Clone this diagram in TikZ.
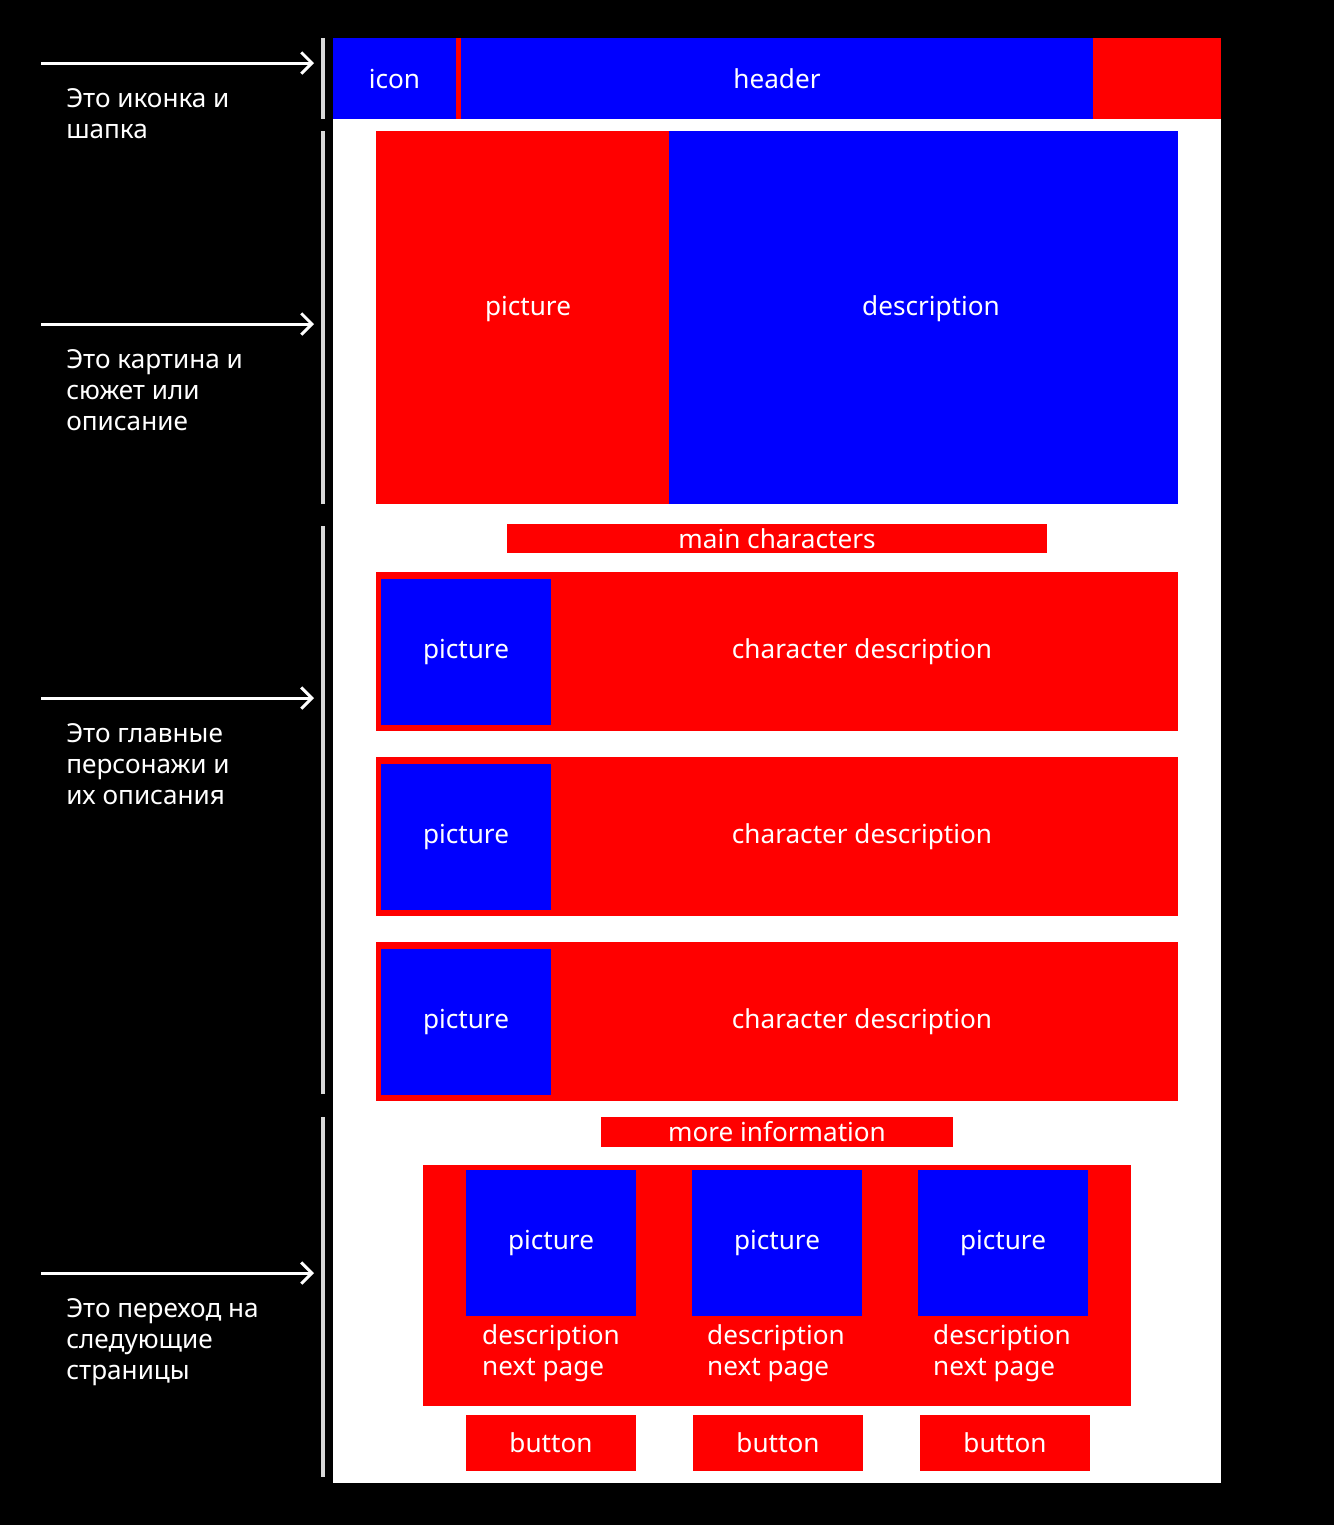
\documentclass[tikz,border=0pt]{standalone}
\usepackage{fontspec}
\setmainfont{Noto Sans}
\usetikzlibrary{arrows.meta}

\definecolor{boxred}{RGB}{255,0,0}
\definecolor{boxblue}{RGB}{0,0,255}
\definecolor{rulegray}{RGB}{217,217,217}

\tikzset{
	redbox/.style={fill=boxred, text=white, inner sep=0pt, outer sep=0pt},
	bluebox/.style={fill=boxblue, text=white, inner sep=0pt, outer sep=0pt},
	label/.style={text=white, inner sep=0pt},
	note/.style={text=white, anchor=base west, align=left, inner sep=0pt},
	pointer/.style={draw=white, line width=2.25pt, -{Straight Barb[length=8pt,width=16pt]}},
	bracket/.style={draw=rulegray, line width=3pt},
}

\begin{document}
\begin{tikzpicture}[x=0.75pt, y=-0.75pt, font=\fontsize{19.6}{23.25}\selectfont]
				\fill[black] (0,0) rectangle (1334,1525);
				\useasboundingbox (0,0) rectangle (1334,1525);
				\fill[white] (333,38) rectangle (1221,1483);
				
				% header
				\node[bluebox, minimum width=92.25pt, minimum height=60.75pt] (icon) at (394.5,78.5) {icon};
				\fill[boxred] (456,38) rectangle (461,119);
				\node[bluebox, minimum width=474pt, minimum height=60.75pt] (header) at (777,78.5) {header};
				\node[redbox, minimum width=96pt, minimum height=60.75pt] (corner) at (1157,78.5) {};
				
				% picture and plot
				\node[redbox, minimum width=219.75pt, minimum height=279.75pt] (poster) at (522.5,317.5) {};
				\node[label] (postertext) at (528,309) {picture};
				\node[bluebox, minimum width=381.75pt, minimum height=279.75pt] (plot) at (923.5,317.5) {};
				\node[label] (plottext) at (931,309) {description};
				
				% characters
				\node[redbox, minimum width=405pt, minimum height=21.75pt] (cast) at (777,538.5) {main characters};
				\node[redbox, minimum width=601.5pt, minimum height=119.25pt] (row1) at (777,651.5) {};
				\node[bluebox, minimum width=127.5pt, minimum height=109.5pt] (pic1) at (466,652) {picture};
				\node[label] (desc1) at (862,652) {character description};
				\node[redbox, minimum width=601.5pt, minimum height=119.25pt] (row2) at (777,836.5) {};
				\node[bluebox, minimum width=127.5pt, minimum height=109.5pt] (pic2) at (466,837) {picture};
				\node[label] (desc2) at (862,837) {character description};
				\node[redbox, minimum width=601.5pt, minimum height=119.25pt] (row3) at (777,1021.5) {};
				\node[bluebox, minimum width=127.5pt, minimum height=109.5pt] (pic3) at (466,1022) {picture};
				\node[label] (desc3) at (862,1022) {character description};
				
				% next pages
				\node[redbox, minimum width=264pt, minimum height=22.5pt] (more) at (777,1132) {more information};
				\node[redbox, minimum width=531pt, minimum height=180.75pt] (pages) at (777,1285.5) {};
				\node[bluebox, minimum width=127.5pt, minimum height=109.5pt] (page1) at (551,1243) {picture};
				\node[bluebox, minimum width=127.5pt, minimum height=109.5pt] (page2) at (777,1243) {picture};
				\node[bluebox, minimum width=127.5pt, minimum height=109.5pt] (page3) at (1003,1243) {picture};
				\node[label, align=left] (next1) at (551,1353) {description\\next page};
				\node[label, align=left] (next2) at (776,1353) {description\\next page};
				\node[label, align=left] (next3) at (1002,1353) {description\\next page};
				\node[redbox, minimum width=127.5pt, minimum height=42pt] (button1) at (551,1443) {button};
				\node[redbox, minimum width=127.5pt, minimum height=42pt] (button2) at (778,1443) {button};
				\node[redbox, minimum width=127.5pt, minimum height=42pt] (button3) at (1005,1443) {button};
				
				% brackets
				\draw[bracket] (323,38) -- (323,119);
				\draw[bracket] (323,131) -- (323,504);
				\draw[bracket] (323,526) -- (323,1094);
				\draw[bracket] (323,1117) -- (323,1477);
				
				% notes (base anchor sits on the last line)
				\coordinate (from1) at (41,63);
				\coordinate (to1) at (314,63);
				\coordinate (from2) at (41,324);
				\coordinate (to2) at (314,324);
				\coordinate (from3) at (41,698);
				\coordinate (to3) at (314,698);
				\coordinate (from4) at (41,1273);
				\coordinate (to4) at (314,1273);
				\draw[pointer] (from1) -- (to1);
				\draw[pointer] (from2) -- (to2);
				\draw[pointer] (from3) -- (to3);
				\draw[pointer] (from4) -- (to4);
				\node[note] (note1) at (66,138) {Это иконка и\\шапка};
				\node[note] (note2) at (66,430) {Это картина и\\сюжет или\\описание};
				\node[note] (note3) at (66,804) {Это главные\\персонажи и\\их описания};
				\node[note] (note4) at (66,1379) {Это переход на\\следующие\\страницы};
			\end{tikzpicture}
\end{document}
